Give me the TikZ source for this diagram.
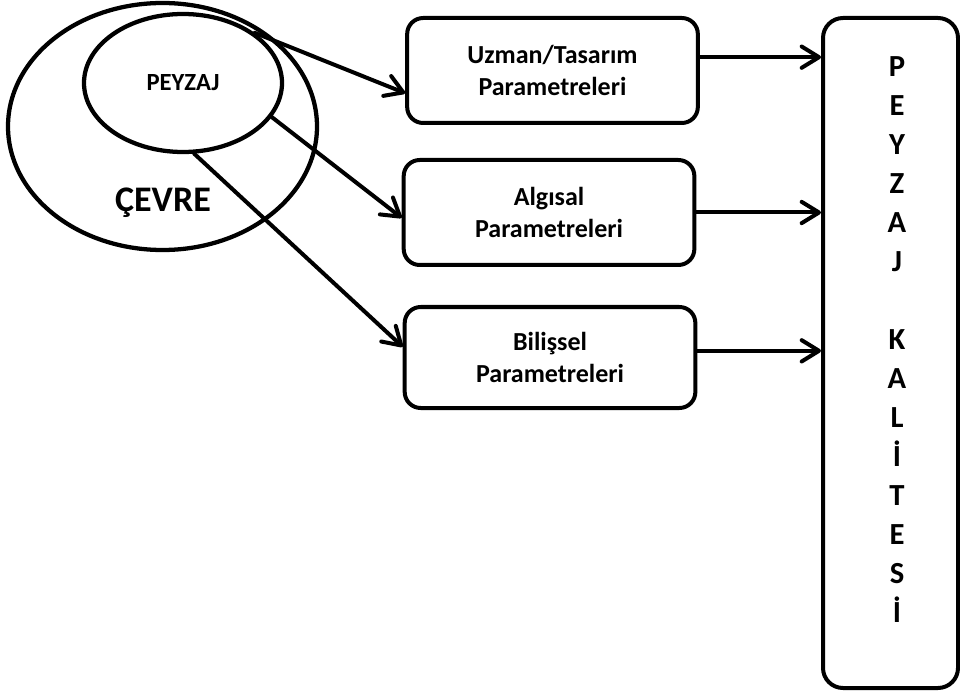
\documentclass[tikz,border=0pt]{standalone}
\usepackage{fontspec}
\setmainfont{Carlito}
\usetikzlibrary{shapes.geometric, arrows.meta, positioning}

\begin{document}
\begin{tikzpicture}[
    x=0.75pt, y=-0.75pt,
    font=\bfseries,
    region/.style={ellipse, draw, line width=3.2pt, inner sep=0pt},
    param/.style={rectangle, draw, rounded corners=12pt, line width=3pt,
                  minimum width=218pt, minimum height=78.75pt, align=center,
                  font=\fontsize{19.5}{23.5}\selectfont\bfseries},
    result/.style={rectangle, draw, rounded corners=15pt, line width=3pt,
                   minimum width=101.25pt, minimum height=502.5pt},
    letters/.style={align=center, font=\fontsize{23}{29.25}\selectfont\bfseries},
    arrow/.style={-{Straight Barb[length=13pt, width=16pt, round]},
                  line width=3pt, line cap=round}
]
\useasboundingbox (0,0) rectangle (960,695);
% --- Çevre ve peyzaj ---
\node[region, minimum width=231.75pt, minimum height=185.25pt] (cevre) at (162.5,126.5) {};
\node[region, minimum width=148.5pt, minimum height=103.5pt,
      font=\fontsize{18.5}{22}\selectfont\bfseries] (peyzaj) at (183,83) {PEYZAJ};
\node[anchor=base, font=\fontsize{27}{32}\selectfont\bfseries] (cevretxt) at (163,212) {ÇEVRE};
% --- Parametreler ---
\node[param] (uzman) at (552.5,70.5) {Uzman/Tasarım\\Parametreleri};
\node[param, below=24.75pt of uzman, xshift=-2.6pt] (algisal) {Algısal\\Parametreleri};
\node[param, below=28.5pt of algisal, xshift=0.75pt, minimum height=75.75pt] (bilissel) {Bilişsel\\Parametreleri};
% --- Peyzaj kalitesi ---
\node[result] (kalite) at (890.5,353) {};
\node[letters] (kalitetxt) at (897,340) {P\\E\\Y\\Z\\A\\J\\ \\K\\A\\L\\İ\\T\\E\\S\\İ};
% --- Oklar ---
\draw[arrow] (peyzaj.35) -- ([yshift=-17pt]uzman.west);
\draw[arrow] (peyzaj.-21) -- ([yshift=-4pt]algisal.west);
\draw[arrow] (peyzaj.-81) -- ([yshift=8pt]bilissel.west);
\draw[arrow] ([yshift=10pt]uzman.east) -- ([yshift=10pt]uzman.east -| kalite.west);
\draw[arrow] (algisal.east) -- (algisal.east -| kalite.west);
\draw[arrow] ([yshift=5pt]bilissel.east) -- ([yshift=5pt]bilissel.east -| kalite.west);
\end{tikzpicture}
\end{document}
